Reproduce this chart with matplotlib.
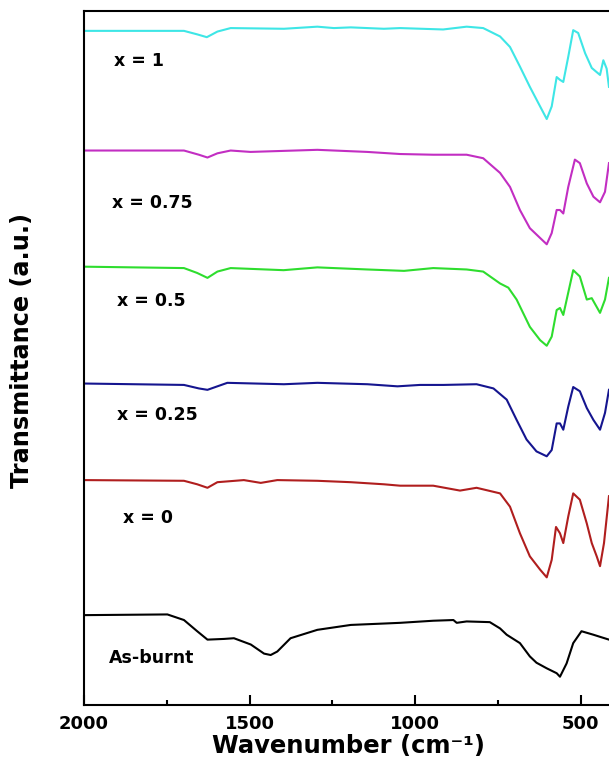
import matplotlib
matplotlib.use("Agg")
import matplotlib.pyplot as plt
from matplotlib.ticker import MultipleLocator, NullLocator

# Espectros FTIR (numero de onda en cm-1, transmitancia en u.a. con desplazamiento)
w_x1 = [2000, 1698, 1658, 1629, 1597, 1557, 1396, 1295, 1245, 1194, 1094, 1045, 915, 844, 794,
        743, 713, 683, 653, 622, 602, 587, 572, 562, 552, 537, 522, 507, 486, 466, 441, 431, 421, 414]
t_x1 = [96.3, 96.3, 95.8, 95.4, 96.2, 96.7, 96.6, 96.9, 96.7, 96.8, 96.6, 96.7, 96.5, 96.9, 96.7,
        95.5, 94.0, 91.2, 88.3, 85.5, 83.7, 85.5, 89.7, 89.3, 89.0, 92.6, 96.4, 96.0, 93.1, 91.0, 90.0, 92.1, 90.9, 88.3]

w_x075 = [2000, 1698, 1653, 1627, 1597, 1557, 1497, 1295, 1144, 1045, 945, 844, 794, 743, 713, 683,
          653, 622, 602, 587, 572, 562, 552, 537, 517, 502, 481, 461, 441, 426, 414]
t_x075 = [79.2, 79.2, 78.6, 78.2, 78.8, 79.2, 79.0, 79.3, 79.0, 78.7, 78.6, 78.6, 78.1, 76.0, 74.0, 70.7,
          68.1, 66.7, 65.8, 67.4, 70.7, 70.7, 70.2, 74.0, 77.9, 77.4, 74.5, 72.6, 71.8, 73.3, 77.4]

w_x05 = [2000, 1698, 1658, 1627, 1597, 1557, 1397, 1295, 1144, 1033, 945, 844, 794, 743, 718, 693,
         653, 622, 602, 587, 572, 562, 552, 537, 522, 502, 481, 466, 441, 426, 414]
t_x05 = [62.6, 62.4, 61.7, 61.0, 61.9, 62.4, 62.1, 62.5, 62.2, 62.0, 62.4, 62.2, 61.9, 60.2, 59.6, 57.9,
         54.0, 52.1, 51.3, 52.6, 56.4, 56.7, 55.7, 58.9, 62.1, 61.2, 57.9, 58.1, 56.0, 57.9, 61.0]

w_x025 = [2000, 1698, 1653, 1627, 1597, 1567, 1396, 1295, 1144, 1053, 985, 914, 814, 763, 723, 693,
          663, 633, 602, 587, 572, 562, 552, 537, 522, 502, 481, 461, 441, 426, 414]
t_x025 = [45.9, 45.7, 45.2, 45.0, 45.5, 46.0, 45.8, 46.0, 45.8, 45.5, 45.7, 45.7, 45.8, 45.2, 43.6, 40.7,
          37.9, 36.2, 35.5, 36.4, 40.2, 40.2, 39.3, 42.6, 45.4, 44.8, 42.4, 40.7, 39.3, 41.7, 45.0]

w_x0 = [2000, 1698, 1658, 1627, 1597, 1517, 1466, 1416, 1295, 1194, 1094, 1045, 945, 864, 814, 743,
        713, 683, 653, 622, 602, 587, 574, 562, 552, 537, 522, 502, 481, 466, 451, 441, 429, 414]
t_x0 = [32.1, 32.0, 31.5, 31.0, 31.8, 32.1, 31.7, 32.1, 32.0, 31.8, 31.5, 31.3, 31.3, 30.6, 31.0, 30.2,
        28.3, 24.5, 21.2, 19.3, 18.2, 20.7, 25.4, 24.5, 23.1, 26.9, 30.2, 29.3, 25.9, 23.1, 21.2, 19.8, 23.1, 29.8]

w_burnt = [2000, 1748, 1698, 1658, 1627, 1577, 1547, 1496, 1456, 1436, 1416, 1376, 1295, 1194, 1094,
           1045, 945, 884, 874, 844, 774, 743, 723, 683, 653, 633, 602, 572, 562, 542, 522, 497, 461, 441, 414]
t_burnt = [12.8, 12.9, 12.1, 10.5, 9.3, 9.4, 9.5, 8.6, 7.3, 7.1, 7.6, 9.5, 10.7, 11.4, 11.6,
           11.7, 12.0, 12.1, 11.7, 11.9, 11.8, 10.9, 10.0, 8.8, 6.9, 6.0, 5.2, 4.5, 4.0, 5.9, 8.8, 10.5, 10.0, 9.7, 9.3]

etiquetas = ["x = 1", "x = 0.75", "x = 0.5", "x = 0.25", "x = 0", "As-burnt"]
colores = ["#3EE6E6", "#C22EC2", "#2EDD2E", "#15158F", "#B01E1E", "#000000"]
# posicion de cada etiqueta (numero de onda, transmitancia)
pos_w = [1909, 1914, 1900, 1900, 1882, 1924]
pos_t = [91.3, 70.95, 57.0, 40.7, 25.9, 6.0]

series = [(w_x1, t_x1), (w_x075, t_x075), (w_x05, t_x05),
          (w_x025, t_x025), (w_x0, t_x0), (w_burnt, t_burnt)]

plt.rcParams['font.family'] = ['DejaVu Sans']
plt.rcParams['font.weight'] = 'bold'

fig = plt.figure(figsize=(6.09, 7.59), dpi=100)
ax = fig.add_axes([84 / 609, 54.3 / 759, 529.6 / 609, 693.7 / 759])

for (w, t), c in zip(series, colores):
    ax.plot(w, t, color=c, lw=1.5)

for txt, x, y in zip(etiquetas, pos_w, pos_t):
    ax.text(x, y, txt, fontsize=12.5, fontweight='bold', ha='left', va='baseline')

ax.set_xlim(2000, 400)
ax.set_ylim(0, 99.14)
ax.xaxis.set_major_locator(MultipleLocator(500))
ax.xaxis.set_minor_locator(MultipleLocator(250))
ax.yaxis.set_major_locator(NullLocator())
ax.tick_params(axis='x', which='major', direction='in', length=7, width=1.5, labelsize=13, pad=7.5)
ax.tick_params(axis='x', which='minor', direction='in', length=3.5, width=1.5)
for s in ax.spines.values():
    s.set_linewidth(1.5)

ax.set_xlabel("Wavenumber (cm\u207b\u00b9)", fontsize=17.5, fontweight='bold')
ax.set_ylabel("Transmittance (a.u.)", fontsize=17.3, fontweight='bold')
ax.xaxis.set_label_coords(0.5, -0.0696, transform=ax.transAxes)
ax.xaxis.label.set_va('baseline')
ax.yaxis.set_label_coords(-0.117, 0.511)
ax.yaxis.label.set_va('center')

plt.savefig("out.png", dpi=100)
